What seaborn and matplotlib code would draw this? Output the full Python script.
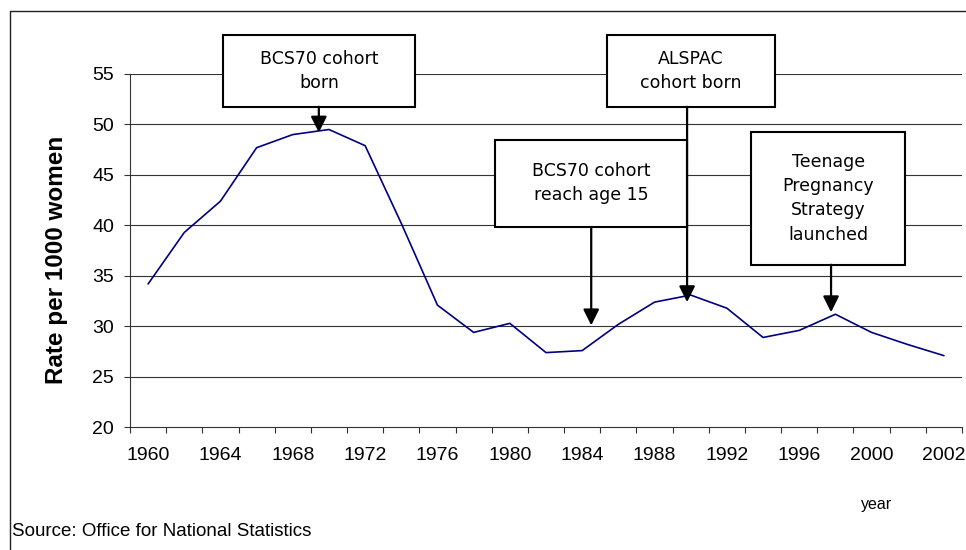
import numpy as np
import pandas as pd
import matplotlib
matplotlib.use('Agg')
import matplotlib.pyplot as plt
import matplotlib.patches as mpatches
from matplotlib.lines import Line2D
import seaborn as sns

# conception rate for women under 20, per 1000
years = ['1960', '1962', '1964', '1966', '1968', '1970', '1972', '1974', '1976', '1978',
         '1980', '1982', '1984', '1986', '1988', '1990', '1992', '1994', '1996', '1998',
         '2000', '2001', '2002']
rates = [34.2, 39.3, 42.4, 47.7, 49.0, 49.5, 47.9, 40.2, 32.1, 29.4,
         30.3, 27.4, 27.6, 30.2, 32.4, 33.1, 31.8, 28.9, 29.6, 31.2,
         29.4, 28.2, 27.1]
y_ticks = [20, 25, 30, 35, 40, 45, 50, 55]

notes = ['BCS70 cohort\nborn', 'ALSPAC\ncohort born', 'BCS70 cohort\nreach age 15',
         'Teenage\nPregnancy\nStrategy\nlaunched']
# layout of the callouts (category units / axis units): box x0, x1, top, bottom, arrow x, tip
note_boxes = [(2.07, 7.38, 58.9, 51.75, 4.72, 49.2),
              (12.69, 17.33, 58.9, 51.75, 14.9, 32.4),
              (9.59, 14.9, 48.5, 39.85, 12.25, 30.1),
              (16.67, 20.93, 49.3, 36.1, 18.88, 31.4)]

df = pd.DataFrame({'pos': np.arange(len(years)), 'rate': rates})

sns.set_style("white")
plt.rcParams['font.family'] = ['Liberation Sans', 'DejaVu Sans']
plt.rcParams['text.color'] = 'black'
plt.rcParams['axes.labelcolor'] = 'black'
plt.rcParams['xtick.color'] = 'black'
plt.rcParams['ytick.color'] = 'black'

fig = plt.figure(figsize=(9.66, 5.5), dpi=100)
ax = fig.add_axes([130/966, 122.7/550, 832/966, 353.3/550])

sns.lineplot(data=df, x='pos', y='rate', color='#000080', linewidth=1.2, ax=ax)

ax.set_xlim(-0.5, len(years) - 0.5)
ax.set_ylim(20, 55)
ax.set_yticks(y_ticks)
ax.set_yticklabels([str(v) for v in y_ticks], fontsize=14)
for v in y_ticks[1:]:
    ax.axhline(v, color='#333333', linewidth=0.8, zorder=0)

ax.set_xticks(np.arange(0, len(years), 2))
ax.set_xticklabels(years[::2], fontsize=14)
ax.set_xticks(np.arange(-0.5, len(years)), minor=True)
ax.tick_params(axis='x', which='major', length=0, pad=14)
ax.tick_params(axis='x', which='minor', length=4, width=0.8, color='#333333', direction='out', bottom=True)
ax.tick_params(axis='y', length=4.5, width=0.8, color='#333333', direction='out', left=True, pad=7)

for side in ['top', 'right']:
    ax.spines[side].set_visible(False)
for side in ['left', 'bottom']:
    ax.spines[side].set_color('#333333')
    ax.spines[side].set_linewidth(0.8)

ax.set_xlabel('')
ax.set_ylabel('Rate per 1000 women', fontsize=17.5, fontweight='bold')
ax.yaxis.set_label_coords(-0.0745, 0.475)

for text, (x0, x1, top, bottom, ax_x, tip) in zip(notes, note_boxes):
    rect = mpatches.Rectangle((x0, bottom), x1 - x0, top - bottom, facecolor='white',
                              edgecolor='black', linewidth=1.5, clip_on=False, zorder=5)
    ax.add_patch(rect)
    ax.text((x0 + x1) / 2, (top + bottom) / 2, text, ha='center', va='center',
            fontsize=12.5, family=['DejaVu Sans'], linespacing=1.45, zorder=6, clip_on=False)
    ax.annotate('', xy=(ax_x, tip), xytext=(ax_x, bottom),
                arrowprops=dict(arrowstyle='-|>', color='black', lw=1.6,
                                mutation_scale=24, shrinkA=0, shrinkB=0),
                zorder=7, annotation_clip=False)

fig.text(877/966, 1 - 505/550, 'year', fontsize=11.5, ha='center', va='center')
fig.text(12/966, 1 - 531/550, 'Source: Office for National Statistics', fontsize=13.5,
         ha='left', va='center')

# outer frame of the original chart area
fig.add_artist(Line2D([10/966, 10/966], [0, 1 - 11/550], color='#222222', linewidth=1))
fig.add_artist(Line2D([10/966, 1], [1 - 11/550, 1 - 11/550], color='#222222', linewidth=1))

plt.savefig('out.png', dpi=100)
